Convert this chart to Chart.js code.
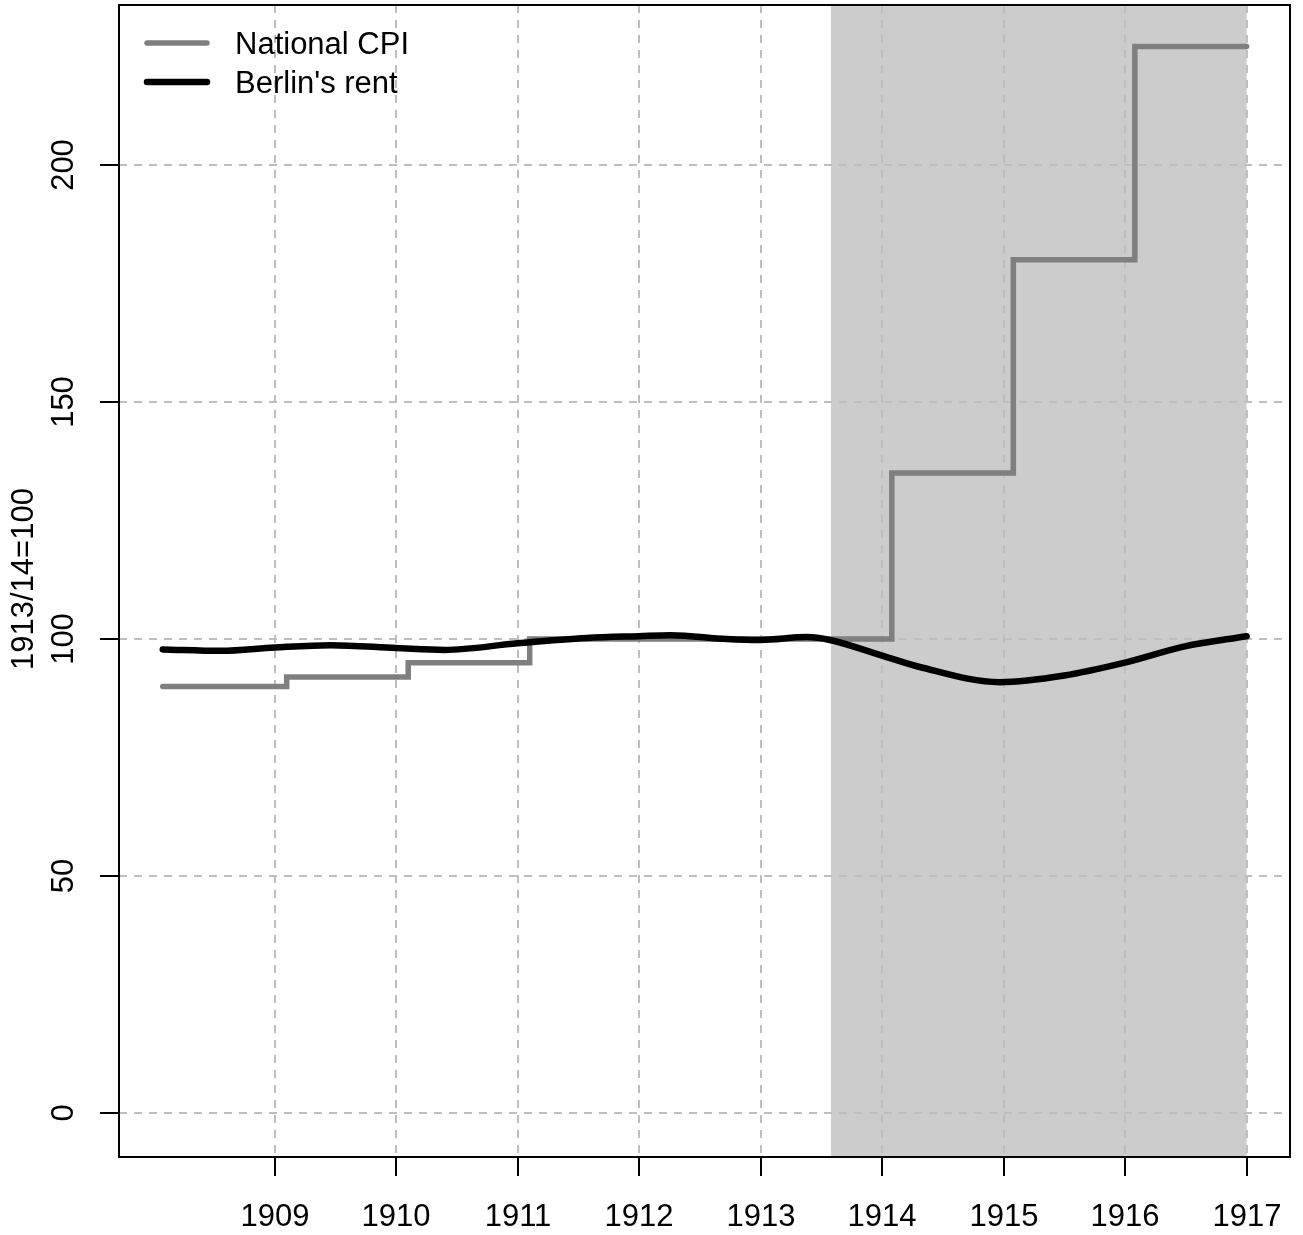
<!DOCTYPE html>
<html>
<head>
<meta charset="utf-8">
<script src="https://cdn.jsdelivr.net/npm/chart.js@4.4.0/dist/chart.umd.min.js"></script>
<style>
  html, body { margin: 0; padding: 0; background: #fff; }
</style>
</head>
<body>
<canvas id="chart" width="1303" height="1235"></canvas>
<script>
// Ticks
const yearTicks = [1909, 1910, 1911, 1912, 1913, 1914, 1915, 1916, 1917];
const valueTicks = [0, 50, 100, 150, 200];

// National CPI (step series, value holds from each year until the next)
const cpiYears = [1908.08, 1909.1, 1910.1, 1911.1, 1914.08, 1915.08, 1916.08, 1917];
const cpiValues = [90, 92, 95, 100, 135, 180, 225, 225];

// Berlin's rent (smooth curve)
const rentYears = [1908.08, 1908.56, 1909.0, 1909.46, 1910.0, 1910.4, 1911.0, 1911.57, 1912.0, 1912.26,
                   1912.72, 1913.0, 1913.38, 1913.57, 1914.0, 1914.31, 1914.97, 1915.5, 1915.98, 1916.5, 1917.0];
const rentValues = [97.8, 97.5, 98.2, 98.7, 98.1, 97.7, 99.1, 100.2, 100.6, 100.8,
                    100.0, 99.8, 100.4, 99.8, 96.5, 94.1, 90.9, 92.3, 94.9, 98.5, 100.6];

// War period (shaded)
const warStart = 1913.58;
const warEnd = 1917;

const FONT = '31px "Liberation Sans", Arial, sans-serif';

const toPoints = (xs, ys) => xs.map((x, i) => ({ x: x, y: ys[i] }));

// Dibuja sombra, rejilla, ejes y leyenda al estilo de R
const rStyle = {
  id: 'rStyle',
  beforeDatasetsDraw(chart) {
    const { ctx, chartArea, scales } = chart;
    const { left, right, top, bottom } = chartArea;
    const x0 = scales.x.getPixelForValue(warStart);
    const x1 = scales.x.getPixelForValue(warEnd);
    ctx.save();
    ctx.fillStyle = '#cccccc';
    ctx.fillRect(x0, top, x1 - x0, bottom - top);

    // grid
    ctx.strokeStyle = '#bebebe';
    ctx.lineWidth = 2;
    ctx.setLineDash([8, 7]);
    yearTicks.forEach(t => {
      const x = Math.round(scales.x.getPixelForValue(t));
      ctx.beginPath(); ctx.moveTo(x, top); ctx.lineTo(x, bottom); ctx.stroke();
    });
    valueTicks.forEach(t => {
      const y = Math.round(scales.y.getPixelForValue(t));
      ctx.beginPath(); ctx.moveTo(left, y); ctx.lineTo(right, y); ctx.stroke();
    });
    ctx.restore();
  },
  afterDatasetsDraw(chart) {
    const { ctx, chartArea, scales } = chart;
    const { left, right, top, bottom } = chartArea;
    ctx.save();

    // legend
    ctx.lineCap = 'round';
    ctx.lineWidth = 5.5;
    ctx.strokeStyle = '#7f7f7f';
    ctx.beginPath(); ctx.moveTo(147, 43); ctx.lineTo(207, 43); ctx.stroke();
    ctx.lineWidth = 6.5;
    ctx.strokeStyle = '#000';
    ctx.beginPath(); ctx.moveTo(147, 82); ctx.lineTo(207, 82); ctx.stroke();
    ctx.font = FONT;
    ctx.fillStyle = '#000';
    ctx.textAlign = 'left';
    ctx.textBaseline = 'alphabetic';
    ctx.fillText('National CPI', 235, 54);
    ctx.fillText("Berlin's rent", 235, 93);

    // box
    ctx.lineCap = 'butt';
    ctx.strokeStyle = '#000';
    ctx.lineWidth = 2;
    ctx.strokeRect(left, top, right - left, bottom - top);

    // x axis ticks and labels
    ctx.textAlign = 'center';
    ctx.textBaseline = 'alphabetic';
    yearTicks.forEach(t => {
      const x = Math.round(scales.x.getPixelForValue(t));
      ctx.beginPath(); ctx.moveTo(x, bottom); ctx.lineTo(x, bottom + 19); ctx.stroke();
      ctx.fillText(String(t), x, 1226);
    });

    // y axis ticks and labels (rotated)
    valueTicks.forEach(t => {
      const y = Math.round(scales.y.getPixelForValue(t));
      ctx.beginPath(); ctx.moveTo(left, y); ctx.lineTo(left - 19, y); ctx.stroke();
      ctx.save();
      ctx.translate(73, y);
      ctx.rotate(-Math.PI / 2);
      ctx.fillText(String(t), 0, 0);
      ctx.restore();
    });

    // y title
    ctx.save();
    ctx.translate(33, 579);
    ctx.rotate(-Math.PI / 2);
    ctx.fillText('1913/14=100', 0, 0);
    ctx.restore();

    ctx.restore();
  }
};

new Chart(document.getElementById('chart'), {
  type: 'line',
  data: {
    datasets: [
      {
        label: "Berlin's rent",
        data: toPoints(rentYears, rentValues),
        borderColor: '#000000',
        borderWidth: 6.5,
        borderCapStyle: 'round',
        borderJoinStyle: 'round',
        cubicInterpolationMode: 'monotone',
        pointRadius: 0,
        fill: false,
        order: 0
      },
      {
        label: 'National CPI',
        data: toPoints(cpiYears, cpiValues),
        borderColor: '#7f7f7f',
        borderWidth: 5.5,
        borderCapStyle: 'round',
        borderJoinStyle: 'miter',
        stepped: 'before',
        pointRadius: 0,
        fill: false,
        order: 1
      }
    ]
  },
  options: {
    responsive: false,
    animation: false,
    devicePixelRatio: 1,
    layout: { padding: { left: 119, right: 13, top: 5, bottom: 78 } },
    plugins: { legend: { display: false }, tooltip: { enabled: false } },
    scales: {
      x: { type: 'linear', min: 1907.72, max: 1917.357, display: false },
      y: { type: 'linear', min: -9.28, max: 233.76, display: false }
    }
  },
  plugins: [rStyle]
});
</script>
</body>
</html>
